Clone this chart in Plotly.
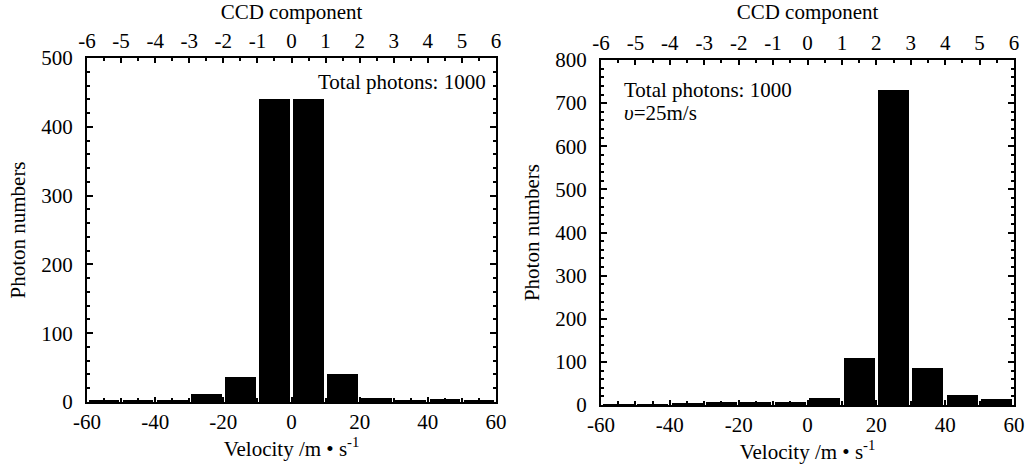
import plotly.graph_objects as go

# Data
velocity_centers = [-55, -45, -35, -25, -15, -5, 5, 15, 25, 35, 45, 55]
counts_left = [2, 2, 3, 12, 36, 440, 441, 41, 6, 3, 5, 2]
counts_right = [1, 2, 3, 7, 8, 7, 17, 110, 730, 85, 23, 14]
ccd_ticks = [-6, -5, -4, -3, -2, -1, 0, 1, 2, 3, 4, 5, 6]
ccd_labels = ["-6", "-5", "-4", "-3", "-2", "-1", "0", "1", "2", "3", "4", "5", "6"]
vel_ticks = [-60, -40, -20, 0, 20, 40, 60]
vel_labels = ["-60", "-40", "-20", "0", "20", "40", "60"]
vel_minor_ticks = [-55, -50, -45, -35, -30, -25, -15, -10, -5, 5, 10, 15, 25, 30, 35, 45, 50, 55]

FONT = "Liberation Serif"
FS = 21
BLACK = "black"

fig = go.Figure()
fig.add_trace(go.Bar(x=velocity_centers, y=counts_left, width=9, marker=dict(color=BLACK, line=dict(width=0)),
                     xaxis="x", yaxis="y", showlegend=False))
fig.add_trace(go.Bar(x=velocity_centers, y=counts_right, width=9, marker=dict(color=BLACK, line=dict(width=0)),
                     xaxis="x3", yaxis="y2", showlegend=False))
# invisible traces to activate top (CCD) axes
fig.add_trace(go.Scatter(x=ccd_ticks, y=[0] * len(ccd_ticks), mode="markers", marker=dict(opacity=0),
                         xaxis="x2", yaxis="y", showlegend=False, hoverinfo="skip"))
fig.add_trace(go.Scatter(x=ccd_ticks, y=[0] * len(ccd_ticks), mode="markers", marker=dict(opacity=0),
                         xaxis="x4", yaxis="y2", showlegend=False, hoverinfo="skip"))

W, H = 1029, 471


def xd(a, b):
    return [a / W, b / W]


def yd(top, bottom):
    return [(H - bottom) / H, (H - top) / H]


L_dom = xd(87, 496)
R_dom = xd(601, 1014)
L_ydom = yd(58, 402)
R_ydom = yd(60, 405)

tfont = dict(family=FONT, size=FS, color=BLACK)
common_line = dict(showline=True, linewidth=2, linecolor=BLACK, showgrid=False, zeroline=False,
                   ticks="inside", tickcolor=BLACK, tickwidth=2, automargin=False,
                   tickfont=tfont)


def bottom_axis(domain, anchor):
    return dict(domain=domain, anchor=anchor, range=[-60, 60], tickmode="array", tickvals=vel_ticks,
                ticktext=vel_labels, ticklen=5, ticklabeloverflow="allow",
                minor=dict(tickvals=vel_minor_ticks, ticks="inside",
                           ticklen=4, tickcolor=BLACK, tickwidth=1.5, showgrid=False),
                title=dict(text="Velocity /m • s<sup>-1</sup>", font=tfont, standoff=8),
                **common_line)


def top_axis(overlay, anchor):
    return dict(overlaying=overlay, anchor=anchor, side="top", range=[-6, 6], tickmode="array", tickvals=ccd_ticks,
                ticktext=ccd_labels, ticklen=5,
                minor=dict(dtick=0.5, tick0=0, ticks="inside", ticklen=3, tickcolor=BLACK, tickwidth=1.5, showgrid=False),
                title=dict(text="CCD component", font=tfont, standoff=8),
                **common_line)


def y_axis(domain, anchor, rmax):
    return dict(domain=domain, anchor=anchor, range=[0, rmax], dtick=100, tick0=0, ticklen=6, mirror="ticks",
                ticklabelstandoff=8,
                minor=dict(dtick=20, tick0=0, ticks="inside", ticklen=3, tickcolor=BLACK, tickwidth=1.5, showgrid=False),
                title=dict(text="Photon numbers", font=tfont, standoff=10),
                **common_line)


fig.update_layout(
    width=W, height=H,
    margin=dict(l=0, r=0, t=0, b=0),
    paper_bgcolor="white", plot_bgcolor="white",
    font=tfont,
    bargap=0,
    xaxis=bottom_axis(L_dom, "y"),
    xaxis2=top_axis("x", "y"),
    xaxis3=bottom_axis(R_dom, "y2"),
    xaxis4=top_axis("x3", "y2"),
    yaxis=y_axis(L_ydom, "x", 500),
    yaxis2=y_axis(R_ydom, "x3", 800),
    annotations=[
        dict(text="Total photons: 1000", xref="x domain", yref="y domain", x=0.98, y=0.93,
             xanchor="right", yanchor="middle", showarrow=False, font=tfont),
        dict(text="Total photons: 1000", xref="x3 domain", yref="y2 domain", x=0.05, y=0.913,
             xanchor="left", yanchor="middle", showarrow=False, font=tfont),
        dict(text="<i>υ</i>=25m/s", xref="x3 domain", yref="y2 domain", x=0.05, y=0.846,
             xanchor="left", yanchor="middle", showarrow=False, font=tfont),
    ],
)

# remove the page's default body margin so the figure fills the window exactly
fig.write_html("out.html", config={"displayModeBar": False},
               post_script="document.body.style.margin='0';document.body.style.overflow='hidden';")
